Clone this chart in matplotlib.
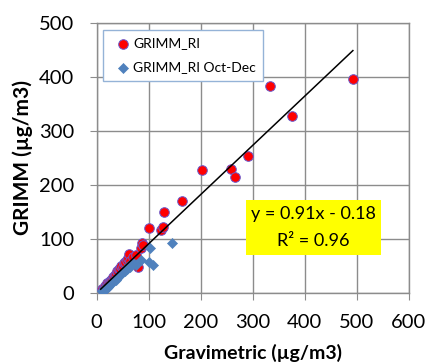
import matplotlib
matplotlib.use("Agg")
import matplotlib.pyplot as plt
from matplotlib.patches import Rectangle
import numpy as np

plt.rcParams['font.family'] = ['Lato', 'DejaVu Sans']

# GRIMM_RI (red circles)
red_x = [10, 12, 14, 16, 18, 20, 22, 24, 26, 28, 30, 32, 34, 36, 38, 40, 42, 44, 46, 48,
         50, 52, 55, 58, 60, 62, 65, 70, 75, 80, 86, 88, 90, 100, 124, 128, 130, 164,
         203, 258, 267, 291, 334, 376, 493]
red_y = [8, 6, 10, 13, 12, 18, 16, 20, 22, 25, 24, 30, 28, 34, 36, 40, 38, 45, 44, 50,
         48, 55, 58, 62, 65, 72, 60, 66, 70, 49, 83, 92, 88, 121, 117, 123, 150, 171,
         227, 230, 214, 253, 383, 327, 395]

# GRIMM_RI Oct-Dec (blue diamonds)
blue_x = [10, 12, 14, 16, 18, 20, 22, 24, 26, 28, 30, 32, 35, 38, 40, 42, 45, 48, 50, 55,
          58, 60, 65, 70, 75, 85, 100, 109, 102, 145]
blue_y = [4, 6, 5, 8, 10, 9, 12, 14, 15, 18, 20, 22, 25, 24, 28, 30, 33, 35, 38, 40,
          45, 50, 48, 55, 52, 61, 57, 52, 83, 92]

slope, intercept = 0.91, -0.18
x_ticks = [0, 100, 200, 300, 400, 500, 600]
y_ticks = [0, 100, 200, 300, 400, 500]

fig = plt.figure(figsize=(4.28, 3.64), dpi=100)
ax = fig.add_axes([0.2255, 0.195, 0.729, 0.7426])

grid_c = '#8c8c8c'
ax.set_xlim(0, 600)
ax.set_ylim(0, 500)
ax.set_xticks(x_ticks)
ax.set_yticks(y_ticks)
ax.grid(True, color=grid_c, linewidth=1.0)
ax.set_axisbelow(True)
for s in ax.spines.values():
    s.set_color(grid_c)
    s.set_linewidth(1.0)
ax.tick_params(direction='out', length=5, color=grid_c, labelsize=14.5)
ax.tick_params(axis='x', pad=10)
ax.tick_params(axis='y', pad=11)

ax.scatter(red_x, red_y, s=48, marker='o', facecolor='#ff0000', edgecolor='#6a5acd',
           linewidth=0.7, label='GRIMM_RI', zorder=3)
ax.scatter(blue_x, blue_y, s=26, marker='D', facecolor='#4f81bd', edgecolor='#4f81bd',
           linewidth=0.5, label='GRIMM_RI Oct-Dec', zorder=4)

lx = np.array([min(red_x) - 2, max(red_x)])
ax.plot(lx, slope * lx + intercept, color='black', linewidth=1.1, zorder=5)

ax.set_xlabel('Gravimetric (µg/m3)', fontsize=14, fontweight='bold')
ax.set_ylabel('GRIMM (µg/m3)', fontsize=15, fontweight='bold')
ax.xaxis.set_label_coords(0.5, -0.19)
ax.yaxis.set_label_coords(-0.203, 0.5)

leg = ax.legend(loc='upper left', bbox_to_anchor=(0.021, 0.974), fontsize=10,
                frameon=True, fancybox=False, edgecolor='#95b3d7', framealpha=1,
                borderpad=0.55, labelspacing=0.85, handletextpad=-0.2,
                handlelength=1.8, borderaxespad=0)
leg.get_frame().set_linewidth(1.0)

ax.add_patch(Rectangle((0.479, 0.1406), 0.433, 0.2034, transform=ax.transAxes,
                       facecolor='#ffff00', edgecolor='none', zorder=6))
ax.text(0.696, 0.292, 'y = 0.91x - 0.18', transform=ax.transAxes,
        ha='center', va='center', fontsize=13, zorder=7)
ax.text(0.696, 0.192, 'R² = 0.96', transform=ax.transAxes,
        ha='center', va='center', fontsize=13, zorder=7)

fig.savefig('out.png', dpi=100)
